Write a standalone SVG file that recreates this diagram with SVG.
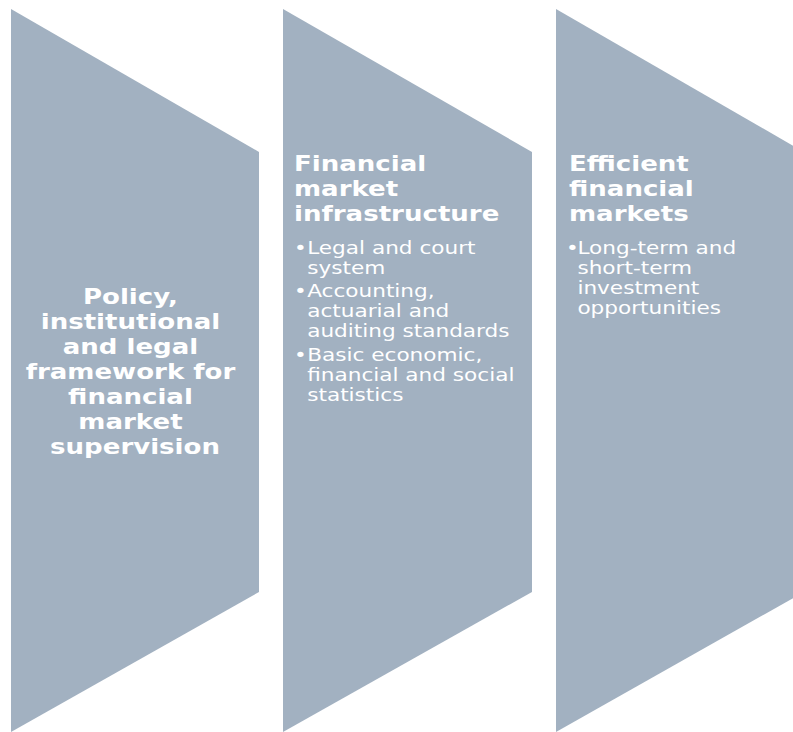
<svg xmlns="http://www.w3.org/2000/svg" width="793" height="732" viewBox="0 0 793 732">
  <style>
    .stage { fill: #A2B1C1; }
    .head { font-family: "DejaVu Sans", Verdana, sans-serif; font-weight: bold; font-size: 21px; fill: #FFFFFF; }
    .lead { font-family: "DejaVu Sans", Verdana, sans-serif; font-weight: bold; font-size: 21px; fill: #FFFFFF; text-anchor: middle; }
    .item { font-family: "DejaVu Sans", Verdana, sans-serif; font-size: 18px; fill: #FFFFFF; }
  </style>
  <rect width="793" height="732" fill="#FFFFFF"/>

  <!-- Stage 1: policy framework -->
  <g id="stage-policy">
    <polygon class="stage" points="11,9 259,152 259,592 11,732"/>
    <g transform="translate(135,0) scale(1.24,1)">
      <text class="lead">
        <tspan x="0" y="304">Policy,</tspan>
        <tspan x="0" y="329">institutional</tspan>
        <tspan x="0" y="354">and legal</tspan>
        <tspan x="0" y="379">framework for</tspan>
        <tspan x="0" y="404">financial</tspan>
        <tspan x="0" y="429">market</tspan>
        <tspan x="0" y="454">supervision</tspan>
      </text>
    </g>
  </g>

  <!-- Stage 2: market infrastructure -->
  <g id="stage-infrastructure">
    <polygon class="stage" points="283,9 532,152 532,592 283,732"/>
    <g transform="translate(294,0) scale(1.24,1)">
      <text class="head">
        <tspan x="0" y="171">Financial</tspan>
        <tspan x="0" y="196">market</tspan>
        <tspan x="0" y="221">infrastructure</tspan>
      </text>
    </g>
    <g transform="translate(294,0) scale(1.2,1)">
      <text class="item">
        <tspan x="0" y="254">•</tspan><tspan x="11" y="254">Legal and court</tspan>
        <tspan x="11" y="274">system</tspan>
        <tspan x="0" y="297">•</tspan><tspan x="11" y="297">Accounting,</tspan>
        <tspan x="11" y="317">actuarial and</tspan>
        <tspan x="11" y="337">auditing standards</tspan>
        <tspan x="0" y="361">•</tspan><tspan x="11" y="361">Basic economic,</tspan>
        <tspan x="11" y="381">financial and social</tspan>
        <tspan x="11" y="401">statistics</tspan>
      </text>
    </g>
  </g>

  <!-- Stage 3: efficient markets (runs past the right edge) -->
  <g id="stage-markets">
    <polygon class="stage" points="556,9 804,152 804,592 556,732"/>
    <g transform="translate(569,0) scale(1.24,1)">
      <text class="head">
        <tspan x="0" y="171">Efficient</tspan>
        <tspan x="0" y="196">financial</tspan>
        <tspan x="0" y="221">markets</tspan>
      </text>
    </g>
    <g transform="translate(566,0) scale(1.2,1)">
      <text class="item">
        <tspan x="0" y="254">•</tspan><tspan x="9.5" y="254">Long-term and</tspan>
        <tspan x="9.5" y="274">short-term</tspan>
        <tspan x="9.5" y="294">investment</tspan>
        <tspan x="9.5" y="314">opportunities</tspan>
      </text>
    </g>
  </g>

  <!-- no connectors: the stages abut as a chevron sequence -->
  <g id="connectors"/>
</svg>
